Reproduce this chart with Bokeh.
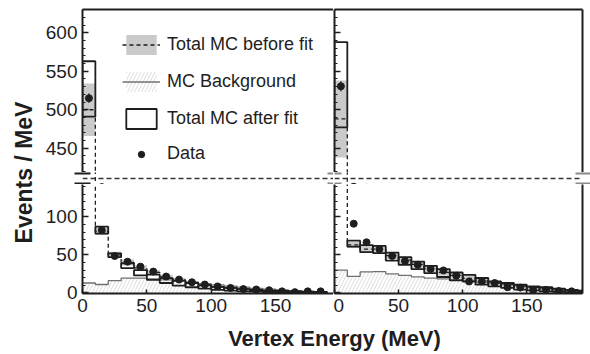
import numpy as np
from bokeh.plotting import figure
from bokeh.models import (Range1d, LinearAxis, FixedTicker, Span, Legend,
                          LegendItem, Label, ColumnDataSource)
from bokeh.layouts import row, column
from bokeh.embed import file_html
from bokeh.resources import INLINE

# ---------------- data ----------------
BIN = 10  # MeV bin width
bins_L = list(range(0, 190, 10))          # 19 bins, lower edges
bins_R = list(range(0, 200, 10))          # 20 bins, lower edges

data_L = [515, 82.5, 48.5, 41, 34.5, 28, 21.5, 17.5, 14, 11, 8.5, 6.5, 5, 4.5, 3.5, 2, 1, 2, 2]
data_err_L = [6, 2.5, 2, 2, 1.8, 1.6, 1.5, 1.3, 1.2, 1.1, 1, 0.9, 0.8, 0.7, 0.6, 0.5, 0.4, 0.4, 0.4]
before_L = [500, 81, 50, 40, 33, 27, 21, 17, 13.5, 10.5, 8, 6.5, 5, 4, 3, 2.5, 2, 1.5, 1]
before_err_L = [34, 5, 4, 4, 3.5, 3, 3, 2.5, 2, 2, 1.5, 1.5, 1.2, 1, 1, 0.8, 0.6, 0.5, 0.5]
after_L = [527, 82.5, 49.5, 35.8, 26.5, 20.5, 16.2, 12.8, 10.2, 7.8, 6, 4.8, 3.5, 2.8, 2, 1.5, 1.2, 0.9, 0.7]
after_err_L = [36, 4.5, 2.5, 3.2, 3.5, 3.5, 3.2, 3.2, 2.8, 2.2, 2, 1.8, 1.5, 1.2, 1, 1, 0.8, 0.6, 0.5]
bg_L = [13, 11, 16, 19.5, 19.5, 18.5, 17, 15.5, 14, 12, 10.5, 9, 7.5, 6, 5, 4, 3, 2, 1]

data_R = [530.5, 91, 66.5, 57.5, 48.5, 42, 37, 31.5, 29.5, 22.5, 15, 15, 13, 7.5, 7, 3.5, 4, 2.5, 2, 1]
data_err_R = [6.5, 2.5, 2.2, 2, 1.8, 1.7, 1.6, 1.5, 1.4, 1.2, 1, 1, 0.9, 0.7, 0.7, 0.5, 0.5, 0.4, 0.4, 0.3]
before_R = [488, 63, 57.5, 57.5, 49, 43, 37.5, 32, 27, 23, 19, 16, 13, 11, 9, 7, 5.5, 4, 3, 2]
before_err_R = [50, 4, 4.5, 4.5, 4.5, 4.5, 4.5, 4.5, 4.5, 4, 4, 3.5, 3, 3, 2.5, 2, 2, 1.5, 1, 1]
after_R = [532.5, 64.7, 58.2, 57, 47.7, 42, 36.2, 30.8, 26.1, 21.6, 19.4, 15.2, 11.8, 9.8, 7.5, 6, 4.8, 3.5, 2.5, 1.8]
after_err_R = [55.5, 3.9, 4.7, 4.7, 5.2, 5, 5, 4.8, 5.2, 5.2, 4.4, 4.4, 3.2, 3.2, 3.2, 2.6, 2.8, 2, 1.5, 1.2]
bg_R = [30, 21.7, 27.5, 28, 25, 23, 21, 19.5, 18.5, 17, 15.5, 14, 12.5, 11, 9.5, 8, 6.5, 5, 3.5, 2]

upper_ticks = [450, 500, 550, 600]
upper_minor = list(range(420, 631, 10))
lower_ticks = [0, 50, 100]
lower_minor = list(range(0, 141, 10))
x_ticks = [0, 50, 100, 150]

legend_labels = ["Total MC before fit", "MC Background", "Total MC after fit", "Data"]
x_title = "Vertex Energy (MeV)"
y_title = "Events / MeV"

# ---------------- style ----------------
INK = "#1e1e1e"
BAND = "#cacaca"
HATCH = "#d2d2d2"
BGLINE = "#707070"
BREAK = "#8a8a8a"
FONT = "Liberation Sans"
TICK_FS = "19px"

X_L = Range1d(0, 195)
X_R = Range1d(0, 193.5)
Y_UP = Range1d(418.4, 630.3)
Y_GAP = Range1d(142.5, 418.4)
Y_LO = Range1d(-0.8, 142.5)


def make_fig(width, height, xr, yr, mbl, mbr, mbt, mbb):
    p = figure(width=width, height=height, x_range=xr, y_range=yr,
               x_axis_location=None, y_axis_location=None,
               toolbar_location=None, output_backend="svg",
               min_border_left=mbl, min_border_right=mbr,
               min_border_top=mbt, min_border_bottom=mbb,
               outline_line_color=None, background_fill_color="white",
               border_fill_color="white")
    p.grid.visible = False
    return p


def tick_axis(ticks, minor, labels, tick_in=6, minor_in=3, standoff=5):
    return LinearAxis(
        ticker=FixedTicker(ticks=ticks, minor_ticks=minor),
        axis_line_width=2, axis_line_color=INK,
        major_tick_line_color=INK, minor_tick_line_color=INK,
        major_tick_line_width=1.5, minor_tick_line_width=1.2,
        major_tick_in=tick_in, major_tick_out=0,
        minor_tick_in=minor_in, minor_tick_out=0,
        major_label_text_font=FONT, major_label_text_font_size=TICK_FS,
        major_label_text_color=INK if labels else None,
        major_label_standoff=standoff if labels else 0)


def plain_axis(width=2):
    return LinearAxis(ticker=FixedTicker(ticks=[]), axis_line_width=width,
                      axis_line_color=INK, major_tick_in=0, major_tick_out=0,
                      minor_tick_in=0, minor_tick_out=0,
                      major_label_text_color=None, major_label_standoff=0)


def break_axis(tick_in, tick_out, color):
    lo, hi = Y_GAP.start, Y_GAP.end
    d = (hi - lo) / 12.0
    return LinearAxis(ticker=FixedTicker(ticks=[lo + d, hi - d], minor_ticks=[]),
                      axis_line_color=None, major_tick_line_color=color,
                      major_tick_line_width=2, major_tick_in=tick_in,
                      major_tick_out=tick_out, minor_tick_in=0, minor_tick_out=0,
                      major_label_text_color=None, major_label_standoff=0)


def draw_panel(p, lo, data, derr, before, berr, after, aerr, bg):
    lo = np.asarray(lo, float)
    hi = lo + BIN
    mid = lo + BIN / 2
    data, derr = np.asarray(data, float), np.asarray(derr, float)
    before, berr = np.asarray(before, float), np.asarray(berr, float)
    after, aerr = np.asarray(after, float), np.asarray(aerr, float)
    bg = np.asarray(bg, float)
    src = ColumnDataSource(dict(lo=lo, hi=hi, mid=mid, data=data,
                                dlo=data - derr, dhi=data + derr,
                                blo=before - berr, bhi=before + berr,
                                alo=after - aerr, ahi=after + aerr, bg=bg))
    r = {}
    r["hatch"] = p.quad(left="lo", right="hi", bottom=0, top="bg", source=src,
                        fill_color=None, line_color=None, hatch_pattern="/",
                        hatch_color=HATCH, hatch_weight=0.8, hatch_scale=7)
    r["band"] = p.quad(left="lo", right="hi", bottom="blo", top="bhi", source=src,
                       fill_color=BAND, line_color=None)
    edges = np.append(lo, hi[-1])
    r["bgline"] = p.step(x=edges, y=np.append(bg, bg[-1]), mode="after",
                         line_color=BGLINE, line_width=1.3)
    r["before"] = p.step(x=edges, y=np.append(before, before[-1]), mode="after",
                         line_color=INK, line_width=1.3, line_dash="4 3")
    r["after"] = p.quad(left="lo", right="hi", bottom="alo", top="ahi", source=src,
                        fill_color=None, line_color=INK, line_width=1.8)
    r["err"] = p.segment(x0="mid", y0="dlo", x1="mid", y1="dhi", source=src,
                         line_color=INK, line_width=1.3)
    r["data"] = p.scatter(x="mid", y="data", source=src, size=7,
                          fill_color=INK, line_color=INK)
    return r


LEFT_SET = (bins_L, data_L, data_err_L, before_L, before_err_L, after_L, after_err_L, bg_L)
RIGHT_SET = (bins_R, data_R, data_err_R, before_R, before_err_R, after_R, after_err_R, bg_R)

# ---------------- upper row ----------------
LU = make_fig(298, 172, X_L, Y_UP, 47, 0, 9, 0)
LU.add_layout(tick_axis(upper_ticks, upper_minor, True), "left")
LU.add_layout(plain_axis(), "above")
rl = draw_panel(LU, *LEFT_SET)

RU = make_fig(257, 172, X_R, Y_UP, 1, 8, 9, 0)
RU.add_layout(tick_axis(upper_ticks, upper_minor, False), "left")
RU.add_layout(plain_axis(), "above")
RU.add_layout(plain_axis(), "right")
draw_panel(RU, *RIGHT_SET)

legend1 = Legend(items=[
    LegendItem(label=legend_labels[0], renderers=[rl["band"], rl["before"]]),
    LegendItem(label=legend_labels[1], renderers=[rl["hatch"], rl["bgline"]]),
    LegendItem(label=legend_labels[2], renderers=[rl["after"]]),
], location=(40, 41), glyph_width=38, glyph_height=25, spacing=12,
    label_standoff=7, padding=0, margin=0, border_line_color=None,
    background_fill_alpha=0, label_text_font=FONT, label_text_font_size="18px",
    label_text_color=INK)
legend2 = Legend(items=[LegendItem(label=legend_labels[3], renderers=[rl["data"]])],
                 location=(40, 8), glyph_width=38, glyph_height=16, spacing=0,
                 label_standoff=7, padding=0, margin=0, border_line_color=None,
                 background_fill_alpha=0, label_text_font=FONT,
                 label_text_font_size="18px", label_text_color=INK)
LU.add_layout(legend1)
LU.add_layout(legend2)

# ---------------- axis-break row ----------------
GL = make_fig(298, 12, X_L, Y_GAP, 47, 0, 0, 0)
GL.add_layout(break_axis(8, 8, INK), "left")
GL.add_layout(break_axis(6, 0, BREAK), "right")
draw_panel(GL, *LEFT_SET)
GR = make_fig(257, 12, X_R, Y_GAP, 1, 8, 0, 0)
GR.add_layout(break_axis(7, 0, BREAK), "left")
GR.add_layout(break_axis(7, 8, BREAK), "right")
draw_panel(GR, *RIGHT_SET)
gap_mid = (Y_GAP.start + Y_GAP.end) / 2
for g in (GL, GR):
    g.add_layout(Span(location=gap_mid, dimension="width", line_color="#333333",
                      line_width=1.5, line_dash="5 3"))

# ---------------- lower row ----------------
def x_axis():
    return LinearAxis(ticker=FixedTicker(ticks=x_ticks, minor_ticks=[]),
                      axis_line_width=2, axis_line_color=INK,
                      major_tick_line_color=INK, major_tick_line_width=1.5,
                      major_tick_in=4, major_tick_out=0, minor_tick_in=0,
                      minor_tick_out=0, major_label_text_font=FONT,
                      major_label_text_font_size=TICK_FS,
                      major_label_text_color=INK, major_label_standoff=5)

LL = make_fig(298, 139, X_L, Y_LO, 47, 0, 0, 30)
LL.add_layout(tick_axis(lower_ticks, lower_minor, True), "left")
LL.add_layout(x_axis(), "below")
draw_panel(LL, *LEFT_SET)

RL = make_fig(257, 139, X_R, Y_LO, 1, 8, 0, 30)
RL.add_layout(tick_axis(lower_ticks, lower_minor, False), "left")
RL.add_layout(x_axis(), "below")
RL.add_layout(plain_axis(), "right")
draw_panel(RL, *RIGHT_SET)

# ---------------- titles ----------------
YT = make_fig(35, 354, Range1d(0, 35), Range1d(0, 354), 0, 0, 0, 0)
YT.add_layout(Label(x=23, y=182, text=y_title, angle=90, angle_units="deg",
                    text_align="center", text_baseline="middle",
                    text_font=FONT, text_font_style="bold",
                    text_font_size="23px", text_color=INK))
XT = make_fig(555, 31, Range1d(0, 555), Range1d(0, 31), 0, 0, 0, 0)
XT.add_layout(Label(x=299, y=16, text=x_title, text_align="center",
                    text_baseline="middle", text_font=FONT,
                    text_font_style="bold", text_font_size="22px",
                    text_color=INK))

layout = row(YT, column(row(LU, RU), row(GL, GR), row(LL, RL), XT))
open("out.html", "w").write(file_html(layout, INLINE))
